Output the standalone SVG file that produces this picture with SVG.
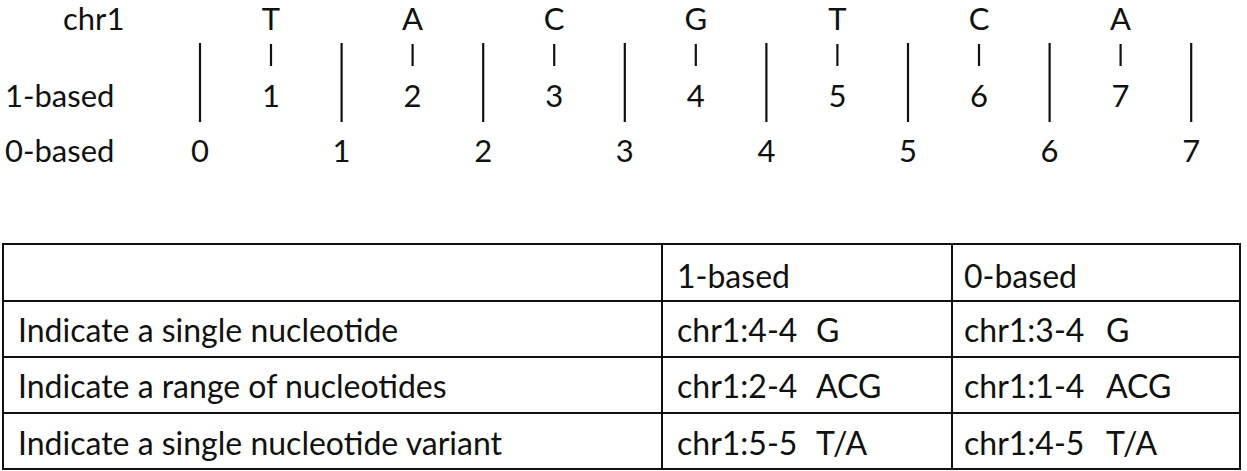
<svg xmlns="http://www.w3.org/2000/svg" width="1247" height="471" viewBox="0 0 1247 471">
<style>
  text { font-family: Lato, "Open Sans", "Liberation Sans", sans-serif; font-size: 31px; fill: #111; }
  .t { font-size: 32px; }
  .c { text-anchor: middle; }
  .tick { stroke: #111; stroke-width: 2.2; }
  .grid { stroke: #111; stroke-width: 2; fill: none; }
</style>
<rect width="1247" height="471" fill="#fff"/>
<g id="ruler">
  <text x="63" y="30">chr1</text>
  <text x="5" y="107">1-based</text>
  <text x="5" y="162">0-based</text>
  <g id="bases">
    <text class="c" x="271" y="30">T</text>
    <text class="c" x="412.6" y="30">A</text>
    <text class="c" x="554.2" y="30">C</text>
    <text class="c" x="695.8" y="30">G</text>
    <text class="c" x="837.4" y="30">T</text>
    <text class="c" x="979" y="30">C</text>
    <text class="c" x="1120.6" y="30">A</text>
  </g>
  <g id="small-ticks">
    <line class="tick" x1="271" y1="44" x2="271" y2="66"/>
    <line class="tick" x1="412.6" y1="44" x2="412.6" y2="66"/>
    <line class="tick" x1="554.2" y1="44" x2="554.2" y2="66"/>
    <line class="tick" x1="695.8" y1="44" x2="695.8" y2="66"/>
    <line class="tick" x1="837.4" y1="44" x2="837.4" y2="66"/>
    <line class="tick" x1="979" y1="44" x2="979" y2="66"/>
    <line class="tick" x1="1120.6" y1="44" x2="1120.6" y2="66"/>
  </g>
  <g id="long-ticks">
    <line class="tick" x1="200" y1="43" x2="200" y2="122"/>
    <line class="tick" x1="341.6" y1="43" x2="341.6" y2="122"/>
    <line class="tick" x1="483.2" y1="43" x2="483.2" y2="122"/>
    <line class="tick" x1="624.8" y1="43" x2="624.8" y2="122"/>
    <line class="tick" x1="766.4" y1="43" x2="766.4" y2="122"/>
    <line class="tick" x1="908" y1="43" x2="908" y2="122"/>
    <line class="tick" x1="1049.6" y1="43" x2="1049.6" y2="122"/>
    <line class="tick" x1="1191.2" y1="43" x2="1191.2" y2="122"/>
  </g>
  <g id="one-based">
    <text class="c" x="271" y="107">1</text>
    <text class="c" x="412.6" y="107">2</text>
    <text class="c" x="554.2" y="107">3</text>
    <text class="c" x="695.8" y="107">4</text>
    <text class="c" x="837.4" y="107">5</text>
    <text class="c" x="979" y="107">6</text>
    <text class="c" x="1120.6" y="107">7</text>
  </g>
  <g id="zero-based">
    <text class="c" x="200" y="162">0</text>
    <text class="c" x="341.6" y="162">1</text>
    <text class="c" x="483.2" y="162">2</text>
    <text class="c" x="624.8" y="162">3</text>
    <text class="c" x="766.4" y="162">4</text>
    <text class="c" x="908" y="162">5</text>
    <text class="c" x="1049.6" y="162">6</text>
    <text class="c" x="1191.2" y="162">7</text>
  </g>
</g>
<g id="table">
  <g id="table-grid">
    <rect class="grid" x="3" y="244" width="1237" height="225"/>
    <line class="grid" x1="3" y1="301" x2="1240" y2="301"/>
    <line class="grid" x1="3" y1="357" x2="1240" y2="357"/>
    <line class="grid" x1="3" y1="413" x2="1240" y2="413"/>
    <line class="grid" x1="662" y1="244" x2="662" y2="469"/>
    <line class="grid" x1="952" y1="244" x2="952" y2="469"/>
  </g>
  <g id="row-header">
    <text class="t" x="677" y="288">1-based</text>
    <text class="t" x="964" y="288">0-based</text>
  </g>
  <g id="row-single">
    <text class="t" x="18" y="342">Indicate a single nucleotide</text>
    <text class="t" x="677" y="342">chr1:4-4<tspan x="816">G</tspan></text>
    <text class="t" x="964" y="342">chr1:3-4<tspan x="1106">G</tspan></text>
  </g>
  <g id="row-range">
    <text class="t" x="18" y="398">Indicate a range of nucleotides</text>
    <text class="t" x="677" y="398">chr1:2-4<tspan x="816">ACG</tspan></text>
    <text class="t" x="964" y="398">chr1:1-4<tspan x="1106">ACG</tspan></text>
  </g>
  <g id="row-variant">
    <text class="t" x="18" y="455">Indicate a single nucleotide variant</text>
    <text class="t" x="677" y="455">chr1:5-5<tspan x="816">T/A</tspan></text>
    <text class="t" x="964" y="455">chr1:4-5<tspan x="1106">T/A</tspan></text>
  </g>
</g>
</svg>
